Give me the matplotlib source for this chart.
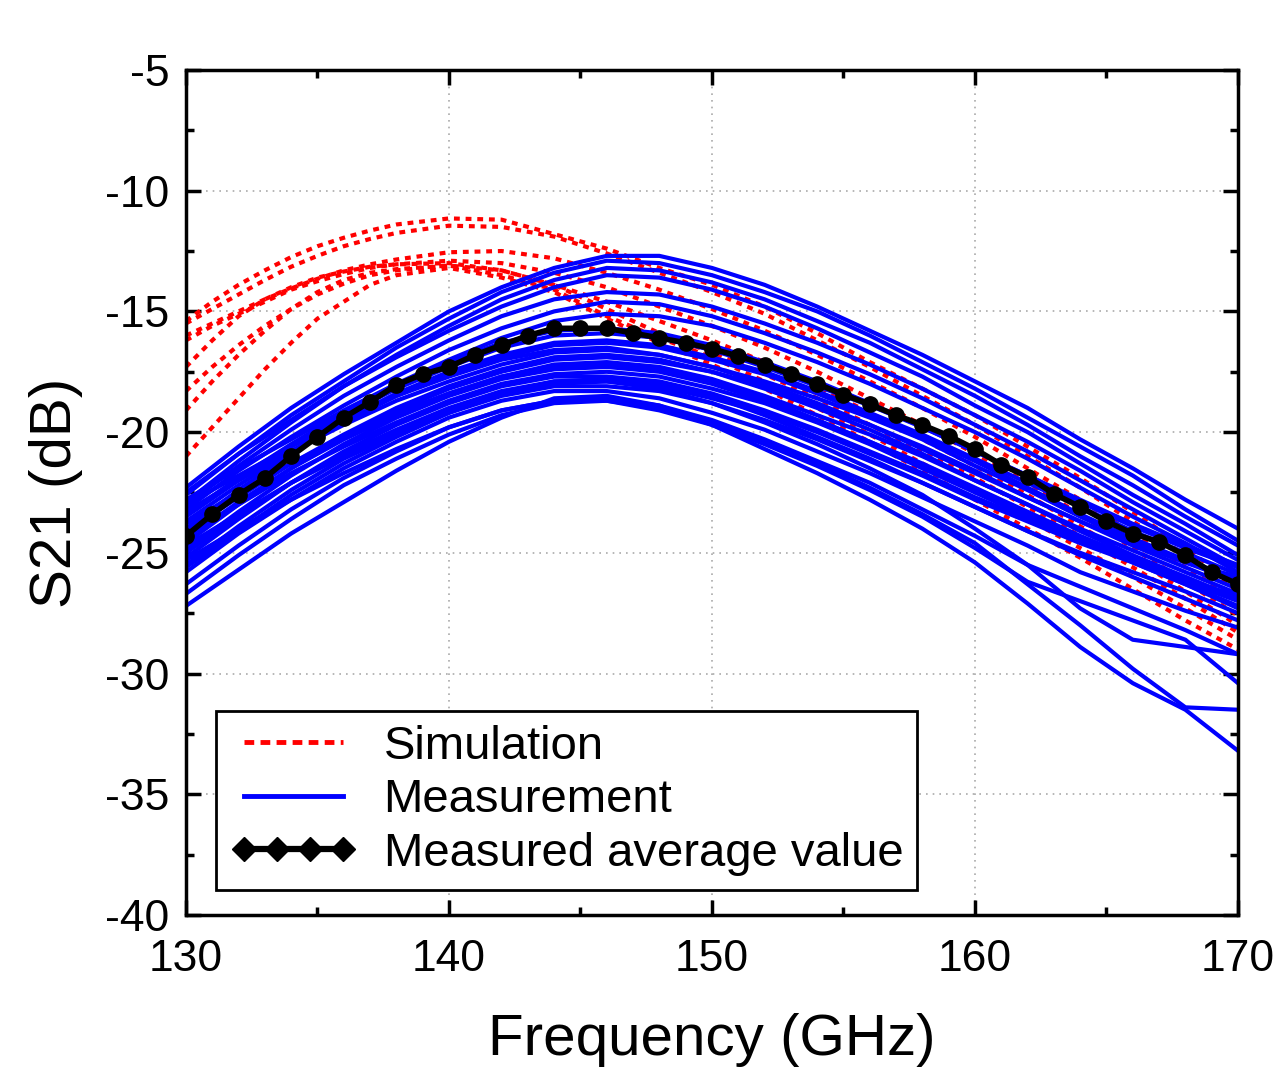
import matplotlib
matplotlib.use("Agg")
import matplotlib.pyplot as plt
from matplotlib.ticker import MultipleLocator
from matplotlib.lines import Line2D

plt.rcParams['font.family'] = ['Liberation Sans', 'DejaVu Sans']
plt.rcParams['axes.unicode_minus'] = False

# frequency grids (GHz)
freq_meas = [130, 132, 134, 136, 138, 140, 142, 144, 146, 148, 150,
             152, 154, 156, 158, 160, 162, 164, 166, 168, 170]
freq_sim = [130, 131, 132, 133, 134, 135, 136, 137, 138, 140, 142, 144, 146,
            148, 150, 152, 154, 156, 158, 160, 162, 164, 166, 168, 170]
freq_avg = list(range(130, 171))

# simulation curves, S21 in dB
sim_curves = [
    [-15.4, -14.6, -13.9, -13.3, -12.75, -12.3, -11.95, -11.65, -11.4, -11.15, -11.2, -11.8, -12.4,
     -13.2, -13.9, -14.8, -15.9, -17.1, -18.2, -19.3, -20.6, -21.9, -23.3, -24.8, -26.4],
    [-15.5, -14.9, -14.3, -13.7, -13.15, -12.7, -12.3, -12.0, -11.75, -11.45, -11.5, -11.9, -12.6,
     -13.4, -14.2, -15.1, -16.2, -17.3, -18.5, -19.7, -21.0, -22.3, -23.7, -25.1, -26.6],
    [-16.0, -15.5, -15.0, -14.5, -14.05, -13.65, -13.3, -13.05, -12.85, -12.55, -12.5, -12.8, -13.4,
     -14.1, -14.9, -15.8, -16.8, -17.9, -19.0, -20.2, -21.5, -22.8, -24.2, -25.6, -27.0],
    [-16.2, -15.6, -15.1, -14.6, -14.1, -13.75, -13.45, -13.2, -13.05, -12.9, -13.0, -13.4, -14.0,
     -14.8, -15.6, -16.5, -17.5, -18.6, -19.7, -20.9, -22.1, -23.4, -24.8, -26.2, -27.6],
    [-17.3, -16.2, -15.2, -14.5, -14.0, -13.6, -13.35, -13.15, -13.05, -13.0, -13.3, -13.9, -14.6,
     -15.4, -16.2, -17.1, -18.1, -19.2, -20.3, -21.4, -22.6, -23.9, -25.2, -26.6, -28.0],
    [-18.3, -17.3, -16.4, -15.6, -14.9, -14.3, -13.85, -13.5, -13.3, -13.1, -13.3, -13.9, -14.9,
     -15.9, -16.7, -17.6, -18.6, -19.7, -20.8, -21.9, -23.1, -24.3, -25.6, -26.9, -28.3],
    [-19.1, -17.9, -16.8, -15.8, -14.9, -14.2, -13.7, -13.4, -13.25, -13.1, -13.5, -14.1, -15.2,
     -16.1, -16.9, -17.9, -19.0, -20.1, -21.3, -22.4, -23.6, -24.8, -26.0, -27.3, -28.6],
    [-21.0, -19.8, -18.6, -17.4, -16.3, -15.3, -14.6, -13.9, -13.5, -13.2, -13.6, -14.2, -15.3,
     -16.3, -17.2, -18.2, -19.3, -20.4, -21.6, -22.8, -24.0, -25.2, -26.5, -27.8, -29.0],
]

# measured curves, upper group
meas_top = [
    [-22.3, -20.6, -19.0, -17.6, -16.3, -15.0, -14.0, -13.2, -12.7, -12.7, -13.2,
     -13.9, -14.8, -15.8, -16.8, -17.9, -19.0, -20.3, -21.5, -22.8, -24.0],
    [-22.6, -20.9, -19.3, -17.9, -16.5, -15.3, -14.2, -13.4, -12.9, -13.0, -13.5,
     -14.2, -15.0, -16.0, -17.1, -18.2, -19.4, -20.6, -21.8, -23.2, -24.5],
    [-22.9, -21.2, -19.6, -18.1, -16.8, -15.6, -14.5, -13.7, -13.2, -13.3, -13.8,
     -14.5, -15.4, -16.3, -17.4, -18.5, -19.7, -21.0, -22.2, -23.5, -24.7],
    [-22.5, -20.9, -19.5, -18.1, -16.9, -15.8, -14.8, -14.0, -13.5, -13.6, -14.1,
     -14.8, -15.7, -16.7, -17.7, -18.9, -20.0, -21.3, -22.6, -23.8, -25.1],
    [-23.0, -21.4, -19.9, -18.5, -17.3, -16.2, -15.2, -14.5, -14.2, -14.3, -14.8,
     -15.5, -16.3, -17.2, -18.2, -19.3, -20.4, -21.6, -22.9, -24.1, -25.3],
    [-23.2, -21.6, -20.2, -18.9, -17.7, -16.6, -15.7, -15.0, -14.6, -14.7, -15.2,
     -15.9, -16.7, -17.6, -18.6, -19.7, -20.8, -22.0, -23.2, -24.4, -25.6],
    [-22.8, -21.5, -20.3, -19.1, -18.0, -17.0, -16.1, -15.4, -15.1, -15.2, -15.6,
     -16.3, -17.1, -18.0, -19.0, -20.0, -21.1, -22.3, -23.5, -24.6, -25.8],
]

# measured curves, dense middle group
meas_mid = [
    [-23.5, -22.0, -20.6, -19.3, -18.2, -17.3, -16.5, -16.0, -15.9, -16.1, -16.6,
     -17.3, -18.1, -18.9, -19.8, -20.8, -21.8, -22.9, -23.9, -24.8, -25.6],
    [-24.0, -22.4, -20.9, -19.6, -18.5, -17.6, -16.9, -16.4, -16.3, -16.5, -17.0,
     -17.6, -18.4, -19.3, -20.2, -21.2, -22.3, -23.4, -24.4, -25.3, -26.1],
    [-23.3, -22.0, -20.8, -19.7, -18.7, -17.9, -17.2, -16.7, -16.6, -16.8, -17.3,
     -17.9, -18.6, -19.4, -20.3, -21.4, -22.4, -23.5, -24.5, -25.4, -26.0],
    [-24.6, -23.0, -21.5, -20.2, -19.1, -18.2, -17.5, -17.0, -16.9, -17.1, -17.5,
     -18.1, -18.9, -19.7, -20.6, -21.6, -22.7, -23.7, -24.7, -25.6, -26.5],
    [-23.8, -22.5, -21.3, -20.2, -19.2, -18.4, -17.7, -17.2, -17.1, -17.3, -17.8,
     -18.5, -19.3, -20.1, -21.0, -22.0, -23.0, -24.0, -24.9, -25.8, -26.7],
    [-24.9, -23.3, -21.8, -20.5, -19.4, -18.5, -17.8, -17.4, -17.3, -17.5, -18.0,
     -18.7, -19.5, -20.4, -21.3, -22.3, -23.3, -24.3, -25.2, -26.0, -26.9],
    [-24.3, -23.0, -21.7, -20.6, -19.6, -18.7, -18.0, -17.6, -17.5, -17.7, -18.2,
     -18.8, -19.6, -20.5, -21.5, -22.5, -23.5, -24.4, -25.3, -26.2, -27.0],
    [-25.2, -23.6, -22.1, -20.8, -19.7, -18.8, -18.1, -17.7, -17.7, -17.9, -18.4,
     -19.1, -19.9, -20.8, -21.7, -22.7, -23.6, -24.5, -25.3, -26.1, -26.8],
    [-24.7, -23.4, -22.1, -21.0, -20.0, -19.1, -18.4, -18.0, -17.9, -18.1, -18.6,
     -19.2, -20.0, -20.9, -21.8, -22.8, -23.7, -24.6, -25.4, -26.3, -27.3],
    [-25.5, -23.9, -22.4, -21.1, -20.1, -19.2, -18.5, -18.1, -18.1, -18.3, -18.8,
     -19.5, -20.3, -21.2, -22.1, -23.1, -24.1, -25.0, -25.8, -26.6, -27.5],
    [-23.0, -21.8, -20.6, -19.5, -18.5, -17.7, -17.0, -16.6, -16.5, -16.8, -17.3,
     -18.0, -18.8, -19.7, -20.7, -21.7, -22.7, -23.7, -24.6, -25.4, -26.2],
    [-24.1, -22.7, -21.3, -20.1, -19.0, -18.1, -17.4, -16.9, -16.8, -17.0, -17.5,
     -18.2, -19.0, -19.9, -20.9, -22.0, -23.0, -24.1, -25.1, -26.0, -26.9],
    [-23.7, -22.2, -20.8, -19.5, -18.4, -17.5, -16.8, -16.3, -16.2, -16.4, -16.9,
     -17.5, -18.3, -19.2, -20.1, -21.1, -22.1, -23.1, -24.1, -25.0, -25.9],
    [-24.4, -22.9, -21.5, -20.3, -19.3, -18.4, -17.7, -17.3, -17.2, -17.4, -17.9,
     -18.6, -19.5, -20.4, -21.4, -22.4, -23.4, -24.4, -25.4, -26.3, -27.2],
    [-25.0, -23.5, -22.1, -20.9, -19.9, -19.0, -18.3, -17.9, -17.8, -18.0, -18.5,
     -19.3, -20.2, -21.1, -22.1, -23.1, -24.1, -25.1, -26.0, -26.9, -27.8],
    [-23.4, -21.9, -20.5, -19.2, -18.1, -17.1, -16.3, -15.8, -15.7, -15.9, -16.4,
     -17.1, -17.9, -18.8, -19.8, -20.8, -21.8, -22.8, -23.8, -24.7, -25.5],
]

# measured curves, lower group
meas_low = [
    [-25.8, -24.2, -22.8, -21.5, -20.4, -19.4, -18.7, -18.3, -18.3, -18.6, -19.2,
     -19.9, -20.8, -21.7, -22.7, -23.7, -24.7, -25.8, -26.6, -27.4, -28.1],
    [-26.3, -24.7, -23.2, -21.9, -20.8, -19.8, -19.1, -18.7, -18.6, -18.9, -19.5,
     -20.3, -21.2, -22.1, -23.2, -24.3, -25.5, -26.4, -27.3, -28.2, -29.2],
    [-26.7, -25.1, -23.6, -22.2, -21.1, -20.1, -19.3, -18.8, -18.7, -19.1, -19.7,
     -20.5, -21.4, -22.4, -23.5, -24.8, -26.2, -27.0, -27.8, -28.6, -30.4],
    [-27.2, -25.7, -24.2, -22.9, -21.6, -20.4, -19.4, -18.6, -18.5, -18.9, -19.7,
     -20.7, -21.7, -22.8, -24.0, -25.4, -27.1, -28.9, -30.4, -31.5, -33.2],
    [-25.3, -24.0, -22.8, -21.7, -20.7, -19.8, -19.1, -18.7, -18.7, -19.0, -19.6,
     -20.4, -21.3, -22.3, -23.4, -24.6, -26.3, -28.0, -29.8, -31.4, -31.5],
    [-25.6, -24.1, -22.6, -21.3, -20.2, -19.2, -18.4, -17.9, -17.9, -18.2, -18.8,
     -19.6, -20.5, -21.5, -22.6, -24.0, -25.5, -27.3, -28.6, -28.9, -29.2],
]

# measured average
avg_s21 = [-24.3, -23.4, -22.6, -21.9, -21.0, -20.2, -19.4, -18.75, -18.05, -17.6,
           -17.3, -16.8, -16.4, -16.0, -15.7, -15.7, -15.7, -15.9, -16.1, -16.3,
           -16.55, -16.85, -17.2, -17.6, -18.0, -18.45, -18.85, -19.3, -19.7, -20.15,
           -20.7, -21.35, -21.85, -22.55, -23.1, -23.7, -24.2, -24.55, -25.1, -25.8, -26.3]

fig = plt.figure(figsize=(12.78, 10.70), dpi=100)
ax = fig.add_axes([0.1455, 0.1449, 0.8232, 0.7897])

for c in sim_curves:
    ax.plot(freq_sim, c, color='#ff0000', lw=3.0, linestyle=(0, (1.4, 1.4)))

for c in meas_top + meas_mid + meas_low:
    ax.plot(freq_meas, c, color='#0000ff', lw=3.0)

ax.plot(freq_avg, avg_s21, color='black', lw=4, marker='o', markersize=11)

ax.set_xlim(130, 170)
ax.set_ylim(-40, -5)
ax.xaxis.set_major_locator(MultipleLocator(10))
ax.xaxis.set_minor_locator(MultipleLocator(5))
ax.yaxis.set_major_locator(MultipleLocator(5))
ax.yaxis.set_minor_locator(MultipleLocator(2.5))
ax.tick_params(which='both', direction='in', top=True, right=True,
               labelsize=32, width=2.5)
ax.tick_params(which='major', length=11)
ax.tick_params(which='minor', length=6)
ax.tick_params(axis='x', which='major', pad=17)
ax.tick_params(axis='y', which='major', pad=12)
for s in ax.spines.values():
    s.set_linewidth(2.5)
ax.grid(True, which='major', color='#aaaaaa', linestyle=(0, (1, 3)), lw=1.2)
ax.set_axisbelow(True)

ax.set_xlabel('Frequency (GHz)', fontsize=42, labelpad=24)
ax.set_ylabel('S21 (dB)', fontsize=42, labelpad=16)

# legend: diamonds on the average-value handle
handles = [
    Line2D([], [], color='#ff0000', lw=3.5, linestyle=(0, (2, 1.3))),
    Line2D([], [], color='#0000ff', lw=3.5),
    Line2D([], [], color='black', lw=4.5, marker='D', markersize=12),
]
labels = ['Simulation', 'Measurement', 'Measured average value']
leg = ax.legend(handles, labels, loc='lower left', bbox_to_anchor=(0.0285, 0.0296),
                borderaxespad=0, fontsize=34, numpoints=4, handlelength=2.7,
                handletextpad=0.55, labelspacing=0.2, borderpad=0.3,
                fancybox=False, framealpha=1, edgecolor='black')
leg.get_frame().set_linewidth(2)

fig.savefig('out.png', dpi=100)
